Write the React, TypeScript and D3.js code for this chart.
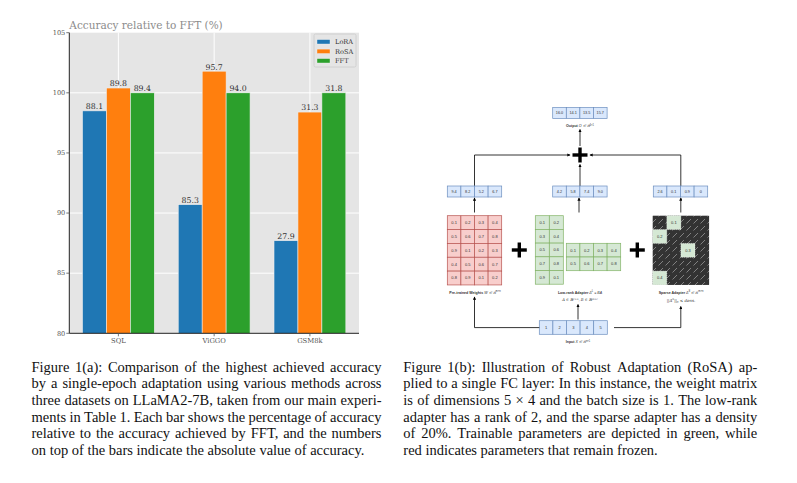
import React from "react";
import * as d3 from "d3";

// ---------- Chart data ----------
const categories = ["SQL", "ViGGO", "GSM8k"];
const seriesNames = ["LoRA", "RoSA", "FFT"];
const seriesColors = ["#1f77b4", "#ff7f0e", "#2ca02c"];
const loraRel = [98.5, 90.7, 87.7];
const rosaRel = [100.4, 101.8, 98.4];
const fftRel = [100.0, 100.0, 100.0];
const loraAcc = ["88.1", "85.3", "27.9"];
const rosaAcc = ["89.8", "95.7", "31.3"];
const fftAcc = ["89.4", "94.0", "31.8"];
const yTicks = [80, 85, 90, 95, 100, 105];
const chartTitle = "Accuracy relative to FFT (%)";

// ---------- Diagram data ----------
const outputVals = ["16.0", "14.1", "13.5", "15.7"];
const frozenOut = ["9.4", "8.2", "5.2", "6.7"];
const lowRankOut = ["4.2", "5.8", "7.4", "9.0"];
const sparseOut = ["2.6", "0.1", "0.9", "0"];
const weightVals = [
  ["0.1", "0.2", "0.3", "0.4"],
  ["0.5", "0.6", "0.7", "0.8"],
  ["0.9", "0.1", "0.2", "0.3"],
  ["0.4", "0.5", "0.6", "0.7"],
  ["0.8", "0.9", "0.1", "0.2"],
];
const aVals = [
  ["0.1", "0.2"],
  ["0.3", "0.4"],
  ["0.5", "0.6"],
  ["0.7", "0.8"],
  ["0.9", "0.1"],
];
const bVals = [
  ["0.1", "0.2", "0.3", "0.4"],
  ["0.5", "0.6", "0.7", "0.8"],
];
const sparseEntries = [
  { r: 0, c: 1, v: "0.1" },
  { r: 1, c: 0, v: "0.2" },
  { r: 2, c: 2, v: "0.3" },
  { r: 4, c: 0, v: "0.4" },
];
const inputVals = ["1", "2", "3", "4", "5"];

// ---------- Captions ----------
const captionA = [
  "Figure 1(a): Comparison of the highest achieved accuracy",
  "by a single-epoch adaptation using various methods across",
  "three datasets on LLaMA2-7B, taken from our main experi-",
  "ments in Table 1. Each bar shows the percentage of accuracy",
  "relative to the accuracy achieved by FFT, and the numbers",
  "on top of the bars indicate the absolute value of accuracy.",
];
const captionB = [
  "Figure 1(b): Illustration of Robust Adaptation (RoSA) ap-",
  "plied to a single FC layer: In this instance, the weight matrix",
  "is of dimensions 5 \u00d7 4 and the batch size is 1. The low-rank",
  "adapter has a rank of 2, and the sparse adapter has a density",
  "of 20%. Trainable parameters are depicted in green, while",
  "red indicates parameters that remain frozen.",
];

const CAP_SIZE = 14.5;
const CAP_FONT = `${CAP_SIZE}px 'Liberation Serif'`;
let _ctx: CanvasRenderingContext2D | null = null;
function measure(t: string, font: string) {
  if (!_ctx) {
    const c = document.createElement("canvas");
    _ctx = c.getContext("2d");
  }
  if (!_ctx) return t.length * 6;
  _ctx.font = font;
  return _ctx.measureText(t).width;
}

function Caption({ lines, x, y0, width, lh }: { lines: string[]; x: number; y0: number; width: number; lh: number }) {
  return (
    <g fontFamily="'Liberation Serif', 'Times New Roman', serif" fontSize={CAP_SIZE} fill="#111">
      {lines.map((line, li) => {
        const words = line.split(" ");
        const ws = words.map((w) => measure(w, CAP_FONT));
        const total = ws.reduce((a, b) => a + b, 0);
        const last = li === lines.length - 1;
        const gap = last ? measure(" ", CAP_FONT) : (width - total) / (words.length - 1);
        let cx = x;
        return (
          <text key={li} y={y0 + li * lh}>
            {words.map((w, i) => {
              const el = (
                <tspan key={i} x={cx}>
                  {w}
                </tspan>
              );
              cx += ws[i] + gap;
              return el;
            })}
          </text>
        );
      })}
    </g>
  );
}

// ---------- Chart ----------
function BarChart() {
  const left = 69.3, right = 359, top = 32.7, bottom = 333.3;
  const x = d3.scaleLinear().domain([-0.5125, 2.5125]).range([left, right]);
  const y = d3.scaleLinear().domain([80, 105]).range([bottom, top]);
  const barW = 0.25;
  const rel = [loraRel, rosaRel, fftRel];
  const acc = [loraAcc, rosaAcc, fftAcc];
  const serif = "'DejaVu Serif', serif";
  return (
    <g fontFamily={serif}>
      <rect x={left} y={top} width={right - left} height={bottom - top} fill="#e5e5e5" />
      {yTicks.slice(1, -1).map((t) => (
        <line key={t} x1={left} x2={right} y1={y(t)} y2={y(t)} stroke="#fff" strokeWidth={1} />
      ))}
      {categories.map((c, i) => (
        <line key={c} x1={x(i)} x2={x(i)} y1={top} y2={bottom} stroke="#fff" strokeWidth={1} />
      ))}
      {rel.map((vals, s) =>
        vals.map((v, i) => {
          const cx = x(i + (s - 1) * barW);
          const x0 = x(i + (s - 1) * barW - barW / 2);
          const x1 = x(i + (s - 1) * barW + barW / 2);
          return (
            <g key={`${s}-${i}`}>
              <rect x={x0} y={y(v)} width={x1 - x0} height={bottom - y(v)} fill={seriesColors[s]} stroke="#eeeeee" strokeWidth={0.6} />
              <text x={cx} y={y(v) - 1.6} textAnchor="middle" fontSize={7.8} fill="#333">
                {acc[s][i]}
              </text>
            </g>
          );
        })
      )}
      <line x1={left} x2={left} y1={top} y2={bottom} stroke="#222" strokeWidth={1} />
      <line x1={left} x2={right} y1={bottom} y2={bottom} stroke="#222" strokeWidth={1} />
      {yTicks.map((t) => (
        <g key={t}>
          <line x1={left - 3} x2={left} y1={y(t)} y2={y(t)} stroke="#555" strokeWidth={0.8} />
          <text x={left - 4} y={y(t) + 2.3} textAnchor="end" fontSize={6.6} fill="#555">
            {t}
          </text>
        </g>
      ))}
      {categories.map((c, i) => (
        <g key={c}>
          <line x1={x(i)} x2={x(i)} y1={bottom} y2={bottom + 3} stroke="#555" strokeWidth={0.8} />
          <text x={x(i)} y={bottom + 9.8} textAnchor="middle" fontSize={6.8} fill="#555">
            {c}
          </text>
        </g>
      ))}
      <text x={left} y={28.5} fontSize={10.5} fill="#8c8c8c">
        {chartTitle}
      </text>
      <g>
        <rect x={314} y={34} width={42} height={33} fill="#e5e5e5" stroke="#cccccc" strokeWidth={0.8} rx={1.5} />
        {seriesNames.map((n, i) => (
          <g key={n}>
            <rect x={317} y={39.6 + i * 9.5} width={13} height={4.4} fill={seriesColors[i]} stroke="#eeeeee" strokeWidth={0.4} />
            <text x={335} y={44.2 + i * 9.5} fontSize={6.6} fill="#333">
              {n}
            </text>
          </g>
        ))}
      </g>
    </g>
  );
}

// ---------- Diagram ----------
function Cells({ x, y, vals, cw, ch, fill, stroke, fs = 4 }: { x: number; y: number; vals: string[][]; cw: number; ch: number; fill: string; stroke: string; fs?: number }) {
  return (
    <g>
      {vals.map((row, r) =>
        row.map((v, c) => (
          <g key={`${r}-${c}`}>
            <rect x={x + c * cw} y={y + r * ch} width={cw} height={ch} fill={fill} stroke={stroke} strokeWidth={0.7} />
            <text x={x + c * cw + cw / 2} y={y + r * ch + ch / 2 + 1.4} textAnchor="middle" fontSize={fs} fill="#333">
              {v}
            </text>
          </g>
        ))
      )}
    </g>
  );
}

function Plus({ cx, cy, s = 15, w = 3.4 }: { cx: number; cy: number; s?: number; w?: number }) {
  return (
    <g stroke="#000" strokeWidth={w}>
      <line x1={cx - s / 2} x2={cx + s / 2} y1={cy} y2={cy} />
      <line x1={cx} x2={cx} y1={cy - s / 2} y2={cy + s / 2} />
    </g>
  );
}

function Arrow({ pts }: { pts: [number, number][] }) {
  const line = d3.line();
  return <path d={line(pts) || ""} fill="none" stroke="#000" strokeWidth={0.8} markerEnd="url(#ah)" />;
}

function Diagram() {
  const blueF = "#dae8fc", blueS = "#6c8ebf";
  const redF = "#f8cecc", redS = "#b85450";
  const greenF = "#d5e8d4", greenS = "#82b366";
  const cw = 13.6;
  const vh = 11;
  const mh = 13.85;
  const sans = "'Liberation Sans', Arial, sans-serif";
  return (
    <g fontFamily={sans}>
      <defs>
        <marker id="ah" viewBox="0 0 6 6" refX={5} refY={3} markerWidth={4} markerHeight={4} orient="auto">
          <path d="M0,0 L6,3 L0,6 z" fill="#000" />
        </marker>
        <pattern id="hatch" width={7} height={7} patternUnits="userSpaceOnUse">
          <rect width={7} height={7} fill="#333" />
          <line x1={0.5} y1={6.5} x2={5} y2={2} stroke="#fff" strokeWidth={0.45} opacity={0.85} />
        </pattern>
      </defs>
      {/* Output */}
      <Cells x={552.7} y={107.5} vals={[outputVals]} cw={cw} ch={vh} fill={blueF} stroke={blueS} fs={3.8} />
      <text x={580} y={127} textAnchor="middle" fontSize={3.6} fontWeight="bold" fill="#333">
        Output <tspan fontStyle="italic" fontWeight="normal">O ∈ ℝ</tspan>
        <tspan fontSize={2.6} dy={-1.5} fontWeight="normal">4×1</tspan>
      </text>
      <Arrow pts={[[580, 146], [580, 129.5]]} />
      <Plus cx={580} cy={155} />
      <Arrow pts={[[474.5, 186], [474.5, 155], [570, 155]]} />
      <Arrow pts={[[680.8, 186], [680.8, 155], [590, 155]]} />
      <Arrow pts={[[580, 186], [580, 164.5]]} />
      {/* Intermediate outputs */}
      <Cells x={447.3} y={186} vals={[frozenOut]} cw={cw} ch={vh} fill={blueF} stroke={blueS} fs={3.8} />
      <Cells x={552.7} y={186} vals={[lowRankOut]} cw={cw} ch={vh} fill={blueF} stroke={blueS} fs={3.8} />
      <Cells x={653.3} y={186} vals={[sparseOut]} cw={cw} ch={vh} fill={blueF} stroke={blueS} fs={3.8} />
      <Arrow pts={[[474.5, 212.5], [474.5, 198]]} />
      <Arrow pts={[[579, 212.5], [579, 198]]} />
      <Arrow pts={[[680.8, 212.5], [680.8, 198]]} />
      {/* Weights */}
      <Cells x={447.3} y={215.7} vals={weightVals} cw={cw} ch={mh} fill={redF} stroke={redS} />
      <text x={475} y={293.5} textAnchor="middle" fontSize={3.6} fontWeight="bold" fill="#333">
        Pre-trained Weights <tspan fontStyle="italic" fontWeight="normal">W ∈ ℝ</tspan>
        <tspan fontSize={2.6} dy={-1.5} fontWeight="normal">m×n</tspan>
      </text>
      <Plus cx={519.3} cy={250} />
      {/* Low-rank */}
      <Cells x={535.3} y={215.7} vals={aVals} cw={14} ch={13.7} fill={greenF} stroke={greenS} />
      <Cells x={566.3} y={243.3} vals={bVals} cw={cw} ch={13.7} fill={greenF} stroke={greenS} />
      <text x={580} y={293.5} textAnchor="middle" fontSize={3.6} fontWeight="bold" fill="#333">
        Low-rank Adapter <tspan fontStyle="italic" fontWeight="normal">Δ</tspan>
        <tspan fontSize={2.6} dy={-1.5} fontWeight="normal" fontStyle="italic">L</tspan>
        <tspan dy={1.5} fontStyle="italic" fontWeight="normal"> = BA</tspan>
      </text>
      <text x={580} y={301} textAnchor="middle" fontSize={3.8} fontStyle="italic" fill="#333" fontFamily="'DejaVu Serif', serif">
        A ∈ ℝ<tspan fontSize={2.6} dy={-1.5}>r×n</tspan>
        <tspan dy={1.5}>, B ∈ ℝ</tspan>
        <tspan fontSize={2.6} dy={-1.5}>m×r</tspan>
      </text>
      <Plus cx={637.3} cy={250} />
      {/* Sparse */}
      <rect x={652.7} y={215.7} width={4 * 14.1} height={5 * 13.85} fill="url(#hatch)" />
      {sparseEntries.map((e) => (
        <g key={e.v}>
          <rect x={652.7 + e.c * 14.1} y={215.7 + e.r * 13.85} width={14.1} height={13.85} fill={greenF} stroke="#ffffff" strokeWidth={0.5} strokeDasharray="1 1" />
          <text x={652.7 + e.c * 14.1 + 7.05} y={215.7 + e.r * 13.85 + 8.3} textAnchor="middle" fontSize={4} fill="#333">
            {e.v}
          </text>
        </g>
      ))}
      <text x={681} y={293.5} textAnchor="middle" fontSize={3.6} fontWeight="bold" fill="#333">
        Sparse Adapter <tspan fontStyle="italic" fontWeight="normal">Δ</tspan>
        <tspan fontSize={2.6} dy={-1.5} fontWeight="normal" fontStyle="italic">S</tspan>
        <tspan dy={1.5} fontStyle="italic" fontWeight="normal"> ∈ ℝ</tspan>
        <tspan fontSize={2.6} dy={-1.5} fontWeight="normal">m×n</tspan>
      </text>
      <text x={681} y={301.5} textAnchor="middle" fontSize={4} fontStyle="italic" fill="#333" fontFamily="'DejaVu Serif', serif">
        ||Δ<tspan fontSize={2.6} dy={-1.5}>S</tspan>
        <tspan dy={1.5}>||</tspan>
        <tspan fontSize={2.6} dy={1}>0</tspan>
        <tspan dy={-1}> ≤ dens.</tspan>
      </text>
      {/* Input */}
      <Cells x={539.3} y={320.7} vals={[inputVals]} cw={cw} ch={13.6} fill={blueF} stroke={blueS} />
      <text x={578} y={343} textAnchor="middle" fontSize={3.6} fontWeight="bold" fill="#333">
        Input <tspan fontStyle="italic" fontWeight="normal">X ∈ ℝ</tspan>
        <tspan fontSize={2.6} dy={-1.5} fontWeight="normal">n×1</tspan>
      </text>
      <Arrow pts={[[539.3, 327.6], [474.5, 327.6], [474.5, 297]]} />
      <Arrow pts={[[614, 327.6], [680.8, 327.6], [680.8, 306.5]]} />
      <Arrow pts={[[578, 319.5], [578, 304.5]]} />
    </g>
  );
}

export default function App() {
  return (
    <svg
      width={797}
      height={483}
      viewBox="0 0 797 483"
      style={{ position: "absolute", left: 0, top: 0, background: "#fff" }}
    >
      <rect width={797} height={483} fill="#fff" />
      <BarChart />
      <Diagram />
      <Caption lines={captionA} x={31.5} y0={371.7} width={350} lh={16.67} />
      <Caption lines={captionB} x={403.3} y0={371.7} width={354} lh={16.67} />
    </svg>
  );
}
